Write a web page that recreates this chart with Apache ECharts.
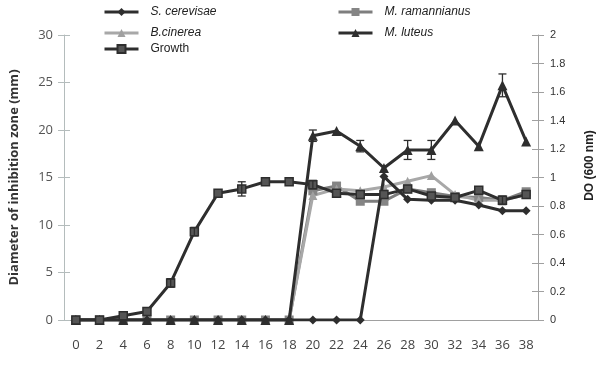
<!DOCTYPE html>
<html>
<head>
<meta charset="utf-8">
<script src="https://cdn.jsdelivr.net/npm/echarts@6/dist/echarts.min.js"></script>
<style>
  html, body { margin: 0; padding: 0; background: #fff; }
  #chart { width: 604px; height: 365px; }
</style>
</head>
<body>
<div id="chart"></div>
<script>
// time (h)
const hours = ['0', '2', '4', '6', '8', '10', '12', '14', '16', '18', '20', '22', '24', '26', '28', '30', '32', '34', '36', '38'];

// inhibition zone diameter (mm)
const sCerevisae = [0, 0, 0, 0, 0, 0, 0, 0, 0, 0, 0, 0, 0, 15.1, 12.7, 12.6, 12.6, 12.1, 11.5, 11.5];
const mRamannianus = [0, 0, 0, 0, 0, 0, 0, 0, 0, 0, 13.6, 14.1, 12.5, 12.5, 13.8, 13.4, 13.0, 12.9, 12.6, 13.5];
const bCinerea = [0, 0, 0, 0, 0, 0, 0, 0, 0, 0, 13.1, 13.8, 13.6, 14.0, 14.6, 15.2, 13.2, 12.6, 12.6, 13.2];
const mLuteus = [0, 0, 0, 0, 0, 0, 0, 0, 0, 0, 19.4, 19.9, 18.3, 16.0, 17.9, 17.9, 21.0, 18.3, 24.7, 18.8];
const mLuteusErr = [0, 0, 0, 0, 0, 0, 0, 0, 0, 0, 0.6, 0, 0.6, 0, 1.0, 1.0, 0, 0, 1.2, 0];

// growth, DO (600 nm)
const growth = [0, 0, 0.03, 0.06, 0.26, 0.62, 0.89, 0.92, 0.97, 0.97, 0.95, 0.89, 0.88, 0.88, 0.92, 0.87, 0.86, 0.91, 0.84, 0.88];
const growthErr = [0, 0, 0, 0, 0.03, 0.03, 0, 0.05, 0, 0, 0.03, 0, 0, 0, 0, 0, 0, 0, 0.03, 0];

const leftTicks = { min: 0, max: 30, interval: 5 };
const rightTicks = { min: 0, max: 2, interval: 0.2 };

const dark = '#2e2e2e';

function errBars(color) {
  return function (params, api) {
    const hi = api.coord([api.value(0), api.value(1) + api.value(2)]);
    const lo = api.coord([api.value(0), api.value(1) - api.value(2)]);
    const w = 4;
    const st = { stroke: color, lineWidth: 1.3 };
    return {
      type: 'group',
      children: [
        { type: 'line', shape: { x1: hi[0], y1: hi[1], x2: lo[0], y2: lo[1] }, style: st },
        { type: 'line', shape: { x1: hi[0] - w, y1: hi[1], x2: hi[0] + w, y2: hi[1] }, style: st },
        { type: 'line', shape: { x1: lo[0] - w, y1: lo[1], x2: lo[0] + w, y2: lo[1] }, style: st }
      ]
    };
  };
}

const errData = (vals, errs) => vals.map((v, i) => [i, v, errs[i]]).filter(d => d[2] > 0);

const legendText = { fontFamily: 'Liberation Sans', fontSize: 12, color: '#222', padding: [0, 0, 0, 7] };
const mkLegend = (name, left, top, italic) => ({
  data: [name], left: left, top: top, itemWidth: 34, itemHeight: 10,
  lineStyle: { width: 3 },
  textStyle: Object.assign({}, legendText, { fontStyle: italic ? 'italic' : 'normal' })
});

const axisGray = '#a0a0a0';

const option = {
  animation: false,
  backgroundColor: '#fff',
  grid: { left: 61, right: 58, top: 35, bottom: 45 },
  legend: [
    mkLegend('S. cerevisae', 98, 1, true),
    mkLegend('M. ramannianus', 332, 1, true),
    mkLegend('B.cinerea', 98, 22, true),
    mkLegend('M. luteus', 332, 22, true),
    mkLegend('Growth', 98, 38, false)
  ],
  xAxis: [
    {
      type: 'category', data: hours, boundaryGap: true,
      axisLine: { lineStyle: { color: axisGray, width: 1 } },
      axisTick: { length: 5, lineStyle: { color: axisGray } },
      axisLabel: { margin: 19, fontFamily: 'Open Sans', fontSize: 13, color: '#444' }
    },
    {
      type: 'category', data: hours, boundaryGap: true, position: 'bottom',
      axisLine: { show: false },
      axisTick: { inside: true, length: 5, lineStyle: { color: axisGray } },
      axisLabel: { show: false }
    }
  ],
  yAxis: [
    {
      type: 'value', position: 'left', min: leftTicks.min, max: leftTicks.max, interval: leftTicks.interval,
      name: 'Diameter of inhibition zone (mm)', nameLocation: 'middle', nameGap: 43,
      nameTextStyle: { fontFamily: 'Open Sans', fontWeight: 'bold', fontSize: 13, color: '#333' },
      axisLine: { show: true, lineStyle: { color: '#b4bcbc' } },
      axisTick: { show: true, length: 6, lineStyle: { color: '#b4bcbc' } },
      axisLabel: { margin: 11, fontFamily: 'Open Sans', fontSize: 13, color: '#555' },
      splitLine: { show: false }
    },
    {
      type: 'value', position: 'right', min: rightTicks.min, max: rightTicks.max, interval: rightTicks.interval,
      name: 'DO (600 nm)', nameLocation: 'middle', nameGap: 46, nameRotate: 90,
      nameTextStyle: { fontFamily: 'Liberation Sans', fontWeight: 'bold', fontSize: 12, color: '#222', padding: [0, 0, 0, 24] },
      axisLine: { show: true, lineStyle: { color: axisGray } },
      axisTick: { show: true, length: 6, lineStyle: { color: axisGray } },
      axisLabel: { margin: 12, fontFamily: 'Liberation Sans', fontSize: 11, color: '#333' },
      splitLine: { show: false }
    },
    {
      type: 'value', position: 'left', min: leftTicks.min, max: leftTicks.max, interval: leftTicks.interval,
      axisLine: { show: false },
      axisTick: { show: true, inside: true, length: 6, lineStyle: { color: '#b4bcbc' } },
      axisLabel: { show: false }, splitLine: { show: false }
    },
    {
      type: 'value', position: 'right', min: rightTicks.min, max: rightTicks.max, interval: rightTicks.interval,
      axisLine: { show: false },
      axisTick: { show: true, inside: true, length: 6, lineStyle: { color: axisGray } },
      axisLabel: { show: false }, splitLine: { show: false }
    }
  ],
  series: [
    {
      name: 'M. ramannianus', type: 'line', data: mRamannianus, yAxisIndex: 0,
      symbol: 'rect', symbolSize: 9, z: 3,
      lineStyle: { color: '#7e7e7e', width: 3 }, itemStyle: { color: '#858585' }
    },
    {
      name: 'B.cinerea', type: 'line', data: bCinerea, yAxisIndex: 0,
      symbol: 'triangle', symbolSize: 9, z: 3,
      lineStyle: { color: '#a8a8a8', width: 3 }, itemStyle: { color: '#a0a0a0' }
    },
    {
      name: 'S. cerevisae', type: 'line', data: sCerevisae, yAxisIndex: 0,
      symbol: 'diamond', symbolSize: 9, z: 4,
      lineStyle: { color: dark, width: 3 }, itemStyle: { color: dark }
    },
    {
      name: 'M. luteus', type: 'line', data: mLuteus, yAxisIndex: 0,
      symbol: 'triangle', symbolSize: 10, z: 4,
      lineStyle: { color: dark, width: 3 }, itemStyle: { color: dark }
    },
    {
      name: 'Growth', type: 'line', data: growth, yAxisIndex: 1,
      symbol: 'rect', symbolSize: 8, z: 5,
      lineStyle: { color: dark, width: 3 }, itemStyle: { color: '#555', borderColor: dark, borderWidth: 1.5 }
    },
    {
      type: 'custom', yAxisIndex: 0, z: 6, silent: true,
      renderItem: errBars(dark), data: errData(mLuteus, mLuteusErr)
    },
    {
      type: 'custom', yAxisIndex: 1, z: 6, silent: true,
      renderItem: errBars(dark), data: errData(growth, growthErr)
    }
  ]
};

const chart = echarts.init(document.getElementById('chart'));
chart.setOption(option);
</script>
</body>
</html>
